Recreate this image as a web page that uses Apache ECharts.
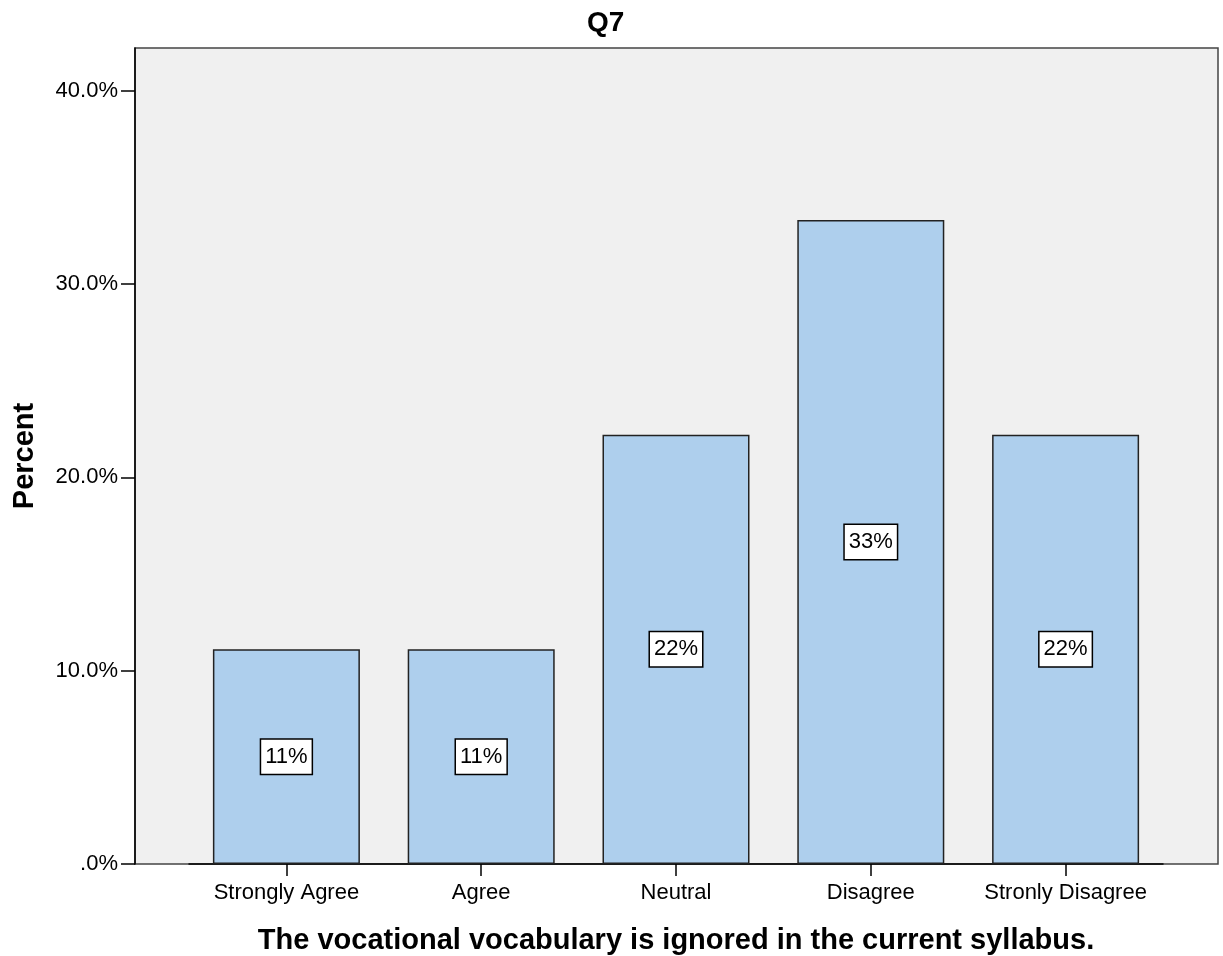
<!DOCTYPE html>
<html>
<head>
<meta charset="utf-8">
<script src="https://cdn.jsdelivr.net/npm/echarts@6/dist/echarts.min.js"></script>
<style>html,body{margin:0;padding:0;background:#fff;}#c{width:1223px;height:956px;}</style>
</head>
<body>
<div id="c"></div>
<script>
const titleText = 'Q7';
const categories = ['Strongly Agree', 'Agree', 'Neutral', 'Disagree', 'Stronly Disagree'];
const percentValues = [11.1, 11.1, 22.2, 33.3, 22.2];
const tickValues = [0, 10, 20, 30, 40];
const tickLabels = ['.0%', '10.0%', '20.0%', '30.0%', '40.0%'];
const xName = 'The vocational vocabulary is ignored in the current syllabus.';
const yName = 'Percent';

const FONT = "'Liberation Sans', Arial, sans-serif";
const chart = echarts.init(document.getElementById('c'));
chart.setOption({
  animation: false,
  backgroundColor: '#ffffff',
  title: {
    text: titleText, left: 582, top: 4,
    textStyle: { fontFamily: FONT, fontSize: 28, fontWeight: 'bold', color: '#000' }
  },
  grid: [
    { left: 189, right: 60, top: 48, bottom: 92, containLabel: false, outerBoundsMode: 'none' },
    { left: 135, right: 5, top: 48, bottom: 92, show: true, backgroundColor: '#f0f0f0', borderColor: '#444', borderWidth: 1.5, z: 0, outerBoundsMode: 'none' }
  ],
  xAxis: [
    {
      type: 'category', gridIndex: 0, data: categories,
      axisLine: { show: true, lineStyle: { color: '#000', width: 1.5 } },
      axisTick: { show: true, alignWithLabel: true, length: 12, lineStyle: { color: '#000', width: 1.5 } },
      axisLabel: { fontFamily: FONT, fontSize: 22, color: '#000', margin: 18, interval: 0 },
      name: xName, nameLocation: 'middle', nameGap: 62,
      nameTextStyle: { fontFamily: FONT, fontSize: 29, fontWeight: 'bold', color: '#000' }
    },
    { type: 'value', gridIndex: 1, show: false }
  ],
  yAxis: [
    {
      type: 'value', gridIndex: 0, min: 0, max: 42.2, offset: 54,
      splitLine: { show: false },
      axisLine: { show: true, lineStyle: { color: '#000', width: 1.5 } },
      axisTick: { show: true, length: 14, customValues: tickValues, lineStyle: { color: '#000', width: 1.5 } },
      axisLabel: {
        fontFamily: FONT, fontSize: 22, color: '#000', margin: 17, padding: [6, 0, 0, 0],
        customValues: tickValues,
        formatter: function (v) { const i = tickValues.indexOf(v); return i >= 0 ? tickLabels[i] : ''; }
      },
      name: yName, nameLocation: 'middle', nameGap: 96,
      nameTextStyle: { fontFamily: FONT, fontSize: 29, fontWeight: 'bold', color: '#000' }
    },
    { type: 'value', gridIndex: 1, show: false }
  ],
  series: [{
    type: 'bar', xAxisIndex: 0, yAxisIndex: 0,
    data: percentValues, barWidth: 147,
    itemStyle: { color: '#aecfed', borderColor: '#222', borderWidth: 1.5 },
    label: {
      show: true, position: 'inside',
      formatter: function (p) { return Math.round(p.value) + '%'; },
      fontFamily: FONT, fontSize: 22, color: '#000',
      backgroundColor: '#fff', borderColor: '#000', borderWidth: 1.5, padding: [7, 4, 5, 4]
    },
    z: 3
  }]
});
</script>
</body>
</html>
